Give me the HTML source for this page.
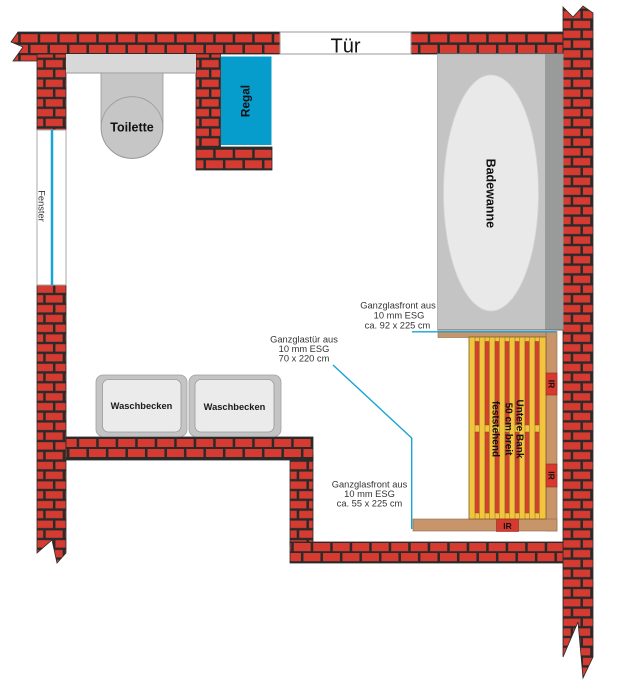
<!DOCTYPE html>
<html>
<head>
<meta charset="utf-8">
<style>
html,body{margin:0;padding:0;background:#fff;}
svg{display:block;}
text{font-family:"Liberation Sans",sans-serif;}
</style>
</head>
<body>
<svg width="622" height="695" viewBox="0 0 622 695" xmlns="http://www.w3.org/2000/svg">
<defs>
  <pattern id="hT" patternUnits="userSpaceOnUse" width="19.5" height="21" patternTransform="translate(0,32)">
    <rect width="19.5" height="21" fill="#2a2a2a"/>
    <rect x="1.2" y="2.2" width="17" height="8.2" fill="#d63b31"/>
    <rect x="-8.55" y="12.9" width="17" height="8.2" fill="#d63b31"/>
    <rect x="10.95" y="12.9" width="17" height="8.2" fill="#d63b31"/>
  </pattern>
  <pattern id="hM" patternUnits="userSpaceOnUse" width="19.5" height="21" patternTransform="translate(0,437)">
    <rect width="19.5" height="21" fill="#2a2a2a"/>
    <rect x="1.2" y="2" width="17" height="8" fill="#d63b31"/>
    <rect x="-8.55" y="12" width="17" height="8" fill="#d63b31"/>
    <rect x="10.95" y="12" width="17" height="8" fill="#d63b31"/>
  </pattern>
  <pattern id="hB" patternUnits="userSpaceOnUse" width="19.5" height="21" patternTransform="translate(0,541)">
    <rect width="19.5" height="21" fill="#2a2a2a"/>
    <rect x="1.2" y="2" width="17" height="8.2" fill="#d63b31"/>
    <rect x="-8.55" y="12" width="17" height="8.2" fill="#d63b31"/>
    <rect x="10.95" y="12" width="17" height="8.2" fill="#d63b31"/>
  </pattern>
  <pattern id="hR" patternUnits="userSpaceOnUse" width="19.5" height="21" patternTransform="translate(0,148)">
    <rect width="19.5" height="21" fill="#2a2a2a"/>
    <rect x="1.2" y="1.8" width="17" height="8" fill="#d63b31"/>
    <rect x="-8.55" y="12.3" width="17" height="8" fill="#d63b31"/>
    <rect x="10.95" y="12.3" width="17" height="8" fill="#d63b31"/>
  </pattern>
  <pattern id="vL" patternUnits="userSpaceOnUse" width="19.5" height="19.6" patternTransform="translate(44.5,0)">
    <rect width="19.5" height="19.6" fill="#2a2a2a"/>
    <rect x="1.2" y="1.2" width="17" height="7.4" fill="#d63b31"/>
    <rect x="-8.55" y="11" width="17" height="7.4" fill="#d63b31"/>
    <rect x="10.95" y="11" width="17" height="7.4" fill="#d63b31"/>
  </pattern>
  <pattern id="vR" patternUnits="userSpaceOnUse" width="19.5" height="19.6" patternTransform="translate(572,0)">
    <rect width="19.5" height="19.6" fill="#2a2a2a"/>
    <rect x="1.2" y="1.2" width="17" height="7.4" fill="#d63b31"/>
    <rect x="-8.55" y="11" width="17" height="7.4" fill="#d63b31"/>
    <rect x="10.95" y="11" width="17" height="7.4" fill="#d63b31"/>
  </pattern>
</defs>

<rect width="622" height="695" fill="#fff"/>

<!-- Walls -->
<rect x="37" y="54" width="29" height="76" fill="url(#vL)" stroke="#2a2a2a" stroke-width="0.8"/>
<polygon points="18,32 280,32 280,54 37,54 37,61 13,61 23,47 11,42" fill="url(#hT)" stroke="#2a2a2a" stroke-width="0.8"/>
<polygon points="37,285 66,285 66,553 57,563 52,540 37,553" fill="url(#vL)" stroke="#2a2a2a" stroke-width="0.8"/>
<rect x="411" y="32" width="152" height="22" fill="url(#hT)" stroke="#2a2a2a" stroke-width="0.8"/>
<polygon points="563,7 573,17 583,6 593,13 593,657 583,678 578,622 563,657" fill="url(#vR)" stroke="#2a2a2a" stroke-width="0.8"/>
<rect x="290" y="455" width="23" height="90" fill="url(#vL)" stroke="#2a2a2a" stroke-width="0.8"/>
<rect x="66" y="437" width="247" height="23" fill="url(#hM)" stroke="#2a2a2a" stroke-width="0.8"/>
<rect x="290" y="542" width="273" height="21" fill="url(#hB)" stroke="#2a2a2a" stroke-width="0.8"/>
<rect x="196" y="54" width="24.5" height="96" fill="url(#vL)" stroke="#2a2a2a" stroke-width="0.8"/>
<rect x="196" y="147" width="76" height="23" fill="url(#hR)" stroke="#2a2a2a" stroke-width="0.8"/>

<!-- Door -->
<rect x="280" y="32" width="131" height="22" fill="#fff" stroke="#999" stroke-width="1"/>
<text x="345.5" y="52.5" font-size="20" text-anchor="middle" fill="#111">Tür</text>

<!-- Window -->
<rect x="37" y="130" width="29" height="155" fill="#fff" stroke="#aaa" stroke-width="1"/>
<line x1="52" y1="130" x2="52" y2="285" stroke="#17a3d6" stroke-width="2.5"/>
<text x="38.5" y="206" font-size="9.3" text-anchor="middle" fill="#333" transform="rotate(90 38.5 206)">Fenster</text>

<!-- Toilet -->
<rect x="66" y="54" width="130" height="19" fill="#d8d8d8"/>
<line x1="66" y1="73" x2="196" y2="73" stroke="#9a9a9a" stroke-width="1"/>
<path d="M101,73 L163,73 L163,127.5 A31,31 0 0 1 101,127.5 Z" fill="#c6c6c6" stroke="#9a9a9a" stroke-width="0.8"/>
<circle cx="132" cy="127.5" r="30.8" fill="none" stroke="#9a9a9a" stroke-width="0.8"/>
<text x="132" y="131.3" font-size="12.5" font-weight="bold" text-anchor="middle" fill="#111">Toilette</text>

<!-- Regal -->
<rect x="221" y="56.5" width="50.5" height="88.5" fill="#069ccc"/>
<text x="249.5" y="101" font-size="11.8" font-weight="bold" text-anchor="middle" fill="#111" transform="rotate(-90 249.5 101)">Regal</text>

<!-- Bathtub -->
<rect x="437.5" y="54" width="125.5" height="276" fill="#c4c4c4" stroke="#aaa" stroke-width="0.8"/>
<rect x="545" y="54" width="18" height="276" fill="#999a9a"/>
<line x1="437.5" y1="330" x2="563" y2="330" stroke="#666" stroke-width="1"/>
<ellipse cx="491" cy="193" rx="47.5" ry="118" fill="#e9e9e9" stroke="#d5d5d5" stroke-width="0.8"/>
<text x="486.5" y="193.3" font-size="12.5" font-weight="bold" text-anchor="middle" fill="#111" transform="rotate(90 486.5 193.3)">Badewanne</text>

<!-- Sauna floor strips -->
<rect x="546" y="331.5" width="11" height="199.5" fill="#c8946a" stroke="#8d6b4d" stroke-width="0.6"/>
<rect x="438" y="331.5" width="108" height="6" fill="#c8946a" stroke="#8d6b4d" stroke-width="0.6"/>
<rect x="413" y="519" width="144" height="12" fill="#c8946a" stroke="#8d6b4d" stroke-width="0.6"/>

<!-- Bench -->
<rect x="469" y="337" width="77" height="182" fill="#f3c53e" stroke="#7c5c25" stroke-width="0.8"/>
<g fill="#d73e2c" stroke="#7c4a25" stroke-width="0.5">
  <rect x="475" y="341.5" width="4.3" height="83.5"/><rect x="475" y="432" width="4.3" height="81"/>
  <rect x="485" y="341.5" width="4.3" height="83.5"/><rect x="485" y="432" width="4.3" height="81"/>
  <rect x="495" y="341.5" width="4.3" height="83.5"/><rect x="495" y="432" width="4.3" height="81"/>
  <rect x="505" y="341.5" width="4.3" height="83.5"/><rect x="505" y="432" width="4.3" height="81"/>
  <rect x="515" y="341.5" width="4.3" height="83.5"/><rect x="515" y="432" width="4.3" height="81"/>
  <rect x="525" y="341.5" width="4.3" height="83.5"/><rect x="525" y="432" width="4.3" height="81"/>
  <rect x="535" y="341.5" width="4.3" height="83.5"/><rect x="535" y="432" width="4.3" height="81"/>
</g>
<g stroke="#8a6a2a" stroke-width="0.5">
  <line x1="475" y1="337" x2="475" y2="519"/><line x1="479.3" y1="337" x2="479.3" y2="519"/>
  <line x1="485" y1="337" x2="485" y2="519"/><line x1="489.3" y1="337" x2="489.3" y2="519"/>
  <line x1="495" y1="337" x2="495" y2="519"/><line x1="499.3" y1="337" x2="499.3" y2="519"/>
  <line x1="505" y1="337" x2="505" y2="519"/><line x1="509.3" y1="337" x2="509.3" y2="519"/>
  <line x1="515" y1="337" x2="515" y2="519"/><line x1="519.3" y1="337" x2="519.3" y2="519"/>
  <line x1="525" y1="337" x2="525" y2="519"/><line x1="529.3" y1="337" x2="529.3" y2="519"/>
  <line x1="535" y1="337" x2="535" y2="519"/><line x1="539.3" y1="337" x2="539.3" y2="519"/>
</g>
<g font-size="10" font-weight="bold" fill="#111" text-anchor="middle">
  <text x="516.5" y="429" transform="rotate(90 516.5 429)">Untere Bank</text>
  <text x="505.3" y="429" transform="rotate(90 505.3 429)">50 cm breit</text>
  <text x="492.5" y="429" transform="rotate(90 492.5 429)">feststehend</text>
</g>

<!-- IR heaters -->
<g fill="#d63a2e" stroke="#8a3020" stroke-width="0.6">
  <rect x="546" y="373" width="11" height="22"/>
  <rect x="546" y="464" width="11" height="23"/>
  <rect x="496.5" y="519" width="22" height="12.5"/>
</g>
<g font-size="8.5" font-weight="bold" fill="#111" text-anchor="middle">
  <text x="548.6" y="384" transform="rotate(90 548.6 384)">IR</text>
  <text x="548.6" y="475.5" transform="rotate(90 548.6 475.5)">IR</text>
  <text x="507.5" y="528.8">IR</text>
</g>

<!-- Glass -->
<g stroke="#17a3d6" stroke-width="1.4" fill="none">
  <line x1="412" y1="331.8" x2="556" y2="331.8"/>
  <polyline points="333,365 411.7,438 411.7,529"/>
</g>

<!-- Glass labels -->
<g font-size="9.3" fill="#333" text-anchor="middle">
  <text x="398" y="308.7">Ganzglasfront aus</text>
  <text x="399" y="318.3">10 mm ESG</text>
  <text x="397.5" y="328.5">ca. 92 x 225 cm</text>
  <text x="304" y="342.3">Ganzglastür aus</text>
  <text x="304" y="352.1">10 mm ESG</text>
  <text x="304" y="361.7">70 x 220 cm</text>
  <text x="369.5" y="487.3">Ganzglasfront aus</text>
  <text x="369.5" y="497.1">10 mm ESG</text>
  <text x="369.5" y="506.7">ca. 55 x 225 cm</text>
</g>

<!-- Washbasins -->
<rect x="96" y="375" width="91" height="61.5" rx="7" fill="#c4c4c4" stroke="#a0a0a0" stroke-width="0.8"/>
<rect x="102.5" y="379.5" width="78.5" height="52.5" rx="6" fill="#ebebeb" stroke="#999" stroke-width="0.8"/>
<rect x="189" y="375" width="92" height="61.5" rx="7" fill="#c4c4c4" stroke="#a0a0a0" stroke-width="0.8"/>
<rect x="195" y="379.5" width="79" height="52.5" rx="6" fill="#ebebeb" stroke="#999" stroke-width="0.8"/>
<text x="141.5" y="409" font-size="9.3" font-weight="bold" text-anchor="middle" fill="#1a1a1a">Waschbecken</text>
<text x="234.5" y="410" font-size="9.3" font-weight="bold" text-anchor="middle" fill="#1a1a1a">Waschbecken</text>
</svg>
</body>
</html>
